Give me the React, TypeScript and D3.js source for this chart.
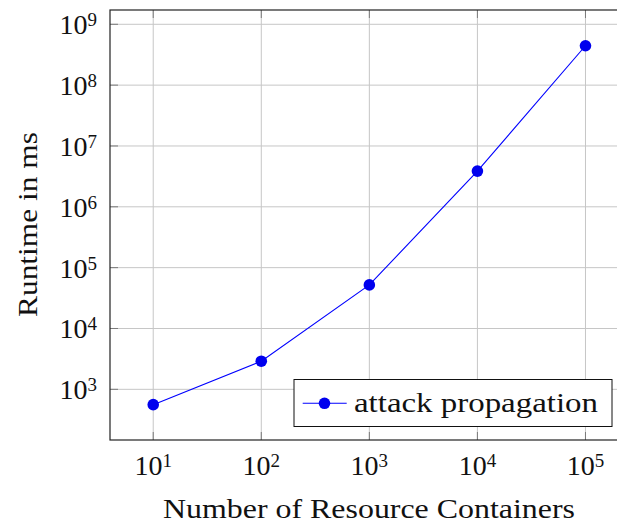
import React from "react";
import * as d3 from "d3";

const containers = [10, 100, 1000, 10000, 100000];
const runtimes = [560, 2900, 52000, 3.86e6, 4.44e8];
const xTickExps = [1, 2, 3, 4, 5];
const yTickExps = [3, 4, 5, 6, 7, 8, 9];
const seriesName = "attack propagation";
const xLabel = "Number of Resource Containers";
const yLabel = "Runtime in ms";

const W = 617;
const H = 525;
const left = 110, top = 10, bottom = 440, right = 628.7;
const FONT = "'Liberation Serif', 'DejaVu Serif', serif";

export default function App() {
  const x = d3.scaleLog().domain([Math.pow(10, 0.6), Math.pow(10, 5.4)]).range([left, right]);
  const y = d3.scaleLog().domain([Math.pow(10, 2.167), Math.pow(10, 9.235)]).range([bottom, top]);
  const line = d3.line<number>().x((_, i) => x(containers[i])).y((d) => y(d));
  const tickLen = 8;
  return (
    <svg width={W} height={H} style={{ position: "absolute", left: 0, top: 0, background: "#fff" }} fontFamily={FONT}>
      {/* grid */}
      {xTickExps.map((e) => (
        <line key={"gx" + e} x1={x(10 ** e)} x2={x(10 ** e)} y1={top} y2={bottom} stroke="#c6c6c6" strokeWidth={1} />
      ))}
      {yTickExps.map((e) => (
        <line key={"gy" + e} x1={left} x2={right} y1={y(10 ** e)} y2={y(10 ** e)} stroke="#c6c6c6" strokeWidth={1} />
      ))}
      {/* ticks */}
      {xTickExps.map((e) => (
        <g key={"tx" + e} stroke="#7a7a7a" strokeWidth={1}>
          <line x1={x(10 ** e)} x2={x(10 ** e)} y1={bottom} y2={bottom - tickLen} />
          <line x1={x(10 ** e)} x2={x(10 ** e)} y1={top} y2={top + tickLen} />
        </g>
      ))}
      {yTickExps.map((e) => (
        <g key={"ty" + e} stroke="#7a7a7a" strokeWidth={1}>
          <line x1={left} x2={left + tickLen} y1={y(10 ** e)} y2={y(10 ** e)} />
          <line x1={right} x2={right - tickLen} y1={y(10 ** e)} y2={y(10 ** e)} />
        </g>
      ))}
      {/* frame */}
      <rect x={left} y={top} width={right - left} height={bottom - top} fill="none" stroke="#222" strokeWidth={1.2} />
      {/* series */}
      <path d={line(runtimes) || ""} fill="none" stroke="#0000ff" strokeWidth={1.1} />
      {runtimes.map((v, i) => (
        <circle key={"p" + i} cx={x(containers[i])} cy={y(v)} r={5.8} fill="#0000ee" />
      ))}
      {/* x tick labels */}
      {xTickExps.map((e) => (
        <text key={"lx" + e} x={x(10 ** e)} y={475} textAnchor="middle" fontSize={28} fill="#111">
          <tspan>10</tspan>
          <tspan fontSize={19} dy={-8}>{e}</tspan>
        </text>
      ))}
      {/* y tick labels */}
      {yTickExps.map((e) => (
        <text key={"ly" + e} x={97} y={y(10 ** e) + 10} textAnchor="end" fontSize={28} fill="#111">
          <tspan>10</tspan>
          <tspan fontSize={19} dy={-8}>{e}</tspan>
        </text>
      ))}
      {/* axis labels */}
      <text x={163} y={518} fontSize={28} fill="#111" textLength={412} lengthAdjust="spacingAndGlyphs">{xLabel}</text>
      <text transform={`translate(36.5, 317) rotate(-90)`} fontSize={28} fill="#111" textLength={185} lengthAdjust="spacingAndGlyphs">{yLabel}</text>
      {/* legend */}
      <rect x={294} y={379.5} width={318} height={47} fill="#fff" stroke="#111" strokeWidth={1} />
      <line x1={302.7} x2={346.7} y1={403.3} y2={403.3} stroke="#0000ff" strokeWidth={1.1} />
      <circle cx={324.5} cy={403.3} r={5.8} fill="#0000ee" />
      <text x={354} y={411.7} fontSize={28} fill="#111" textLength={244} lengthAdjust="spacingAndGlyphs">{seriesName}</text>
    </svg>
  );
}
